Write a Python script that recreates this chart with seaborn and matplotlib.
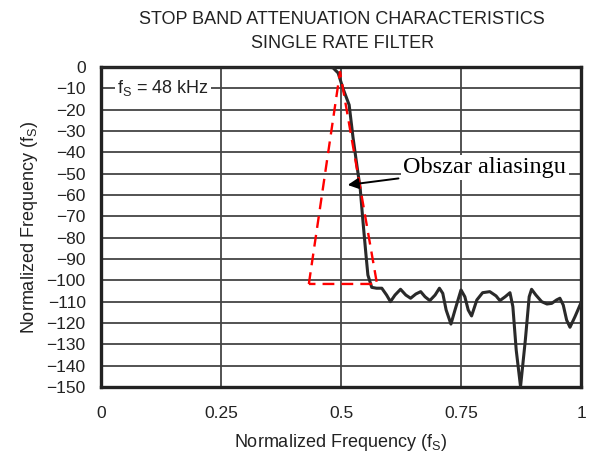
import matplotlib.pyplot as plt
import numpy as np
import pandas as pd
import seaborn as sns

# filter response (normalized freq, dB)
freq = [0.0, 0.10, 0.20, 0.30, 0.40, 0.46, 0.483, 0.494, 0.504, 0.517, 0.525, 0.533,
        0.540, 0.546, 0.552, 0.556, 0.564, 0.574, 0.585, 0.595, 0.603, 0.6125, 0.624,
        0.635, 0.645, 0.656, 0.666, 0.675, 0.685, 0.696, 0.705, 0.712, 0.719, 0.729,
        0.7375, 0.750, 0.758, 0.765, 0.772, 0.783, 0.795, 0.810, 0.823, 0.831, 0.842,
        0.852, 0.858, 0.865, 0.874, 0.884, 0.892, 0.897, 0.906, 0.918, 0.929, 0.939,
        0.949, 0.956, 0.963, 0.970, 0.977, 0.9875, 1.0]
atten = [0, 0, 0, 0, 0, 0, -0.3, -2.8, -10, -17.8, -33, -46,
         -57, -73, -88, -97.5, -103.3, -103.7, -103.7, -106.9, -110, -106.9, -104.2,
         -106.9, -108.4, -106.4, -105.3, -107.7, -109.5, -106.9, -103.7, -106.1, -113.9, -120.5,
         -113.9, -104.5, -107.7, -113.9, -116.7, -109.2, -105.8, -105.3, -107.3, -109.5, -107.7,
         -105.8, -112.3, -132.7, -149.8, -128, -107.7, -104.2, -106.9, -110, -111.1, -110.8,
         -109.2, -108.4, -111.6, -118.6, -122, -117, -110.5]

# aliasing region triangle
tri_f = [0.433, 0.498, 0.575, 0.433]
tri_db = [-101.7, -2.3, -101.7, -101.7]

xticks = [0, 0.25, 0.5, 0.75, 1]
xtick_labels = ["0", "0.25", "0.5", "0.75", "1"]
yticks = list(range(0, -151, -10))

sns.set_theme(style="white")
plt.rcParams['font.family'] = ['Liberation Sans', 'DejaVu Sans']

fig = plt.figure(figsize=(5.93, 4.57), dpi=100)
ax = fig.add_axes([0.1703, 0.1532, 0.8095, 0.7002])

df = pd.DataFrame({"f": freq, "db": atten})
sns.lineplot(data=df, x="f", y="db", sort=False, color="#2a2a2a", lw=2.2, ax=ax, zorder=3,
             solid_joinstyle="round", solid_capstyle="round")
ax.plot(tri_f, tri_db, color="red", lw=1.7, ls=(0, (5, 3)), zorder=4)

ax.set_xlim(0, 1)
ax.set_ylim(-150, 0)
ax.set_xticks(xticks)
ax.set_xticklabels(xtick_labels)
ax.set_yticks(yticks)
ax.tick_params(axis="both", length=0, labelsize=12.5, colors="#222222")
ax.tick_params(axis="x", pad=13.5)
ax.tick_params(axis="y", pad=11)
ax.grid(True, color="#444444", lw=1.3)
for s in ax.spines.values():
    s.set_color("#222222")
    s.set_linewidth(2.4)

ax.set_xlabel("Normalized Frequency (f$_\\mathregular{S}$)", fontsize=13, color="#222222", labelpad=8)
ax.set_ylabel("Normalized Frequency (f$_\\mathregular{S}$)", fontsize=13, color="#222222", labelpad=5)

fig.text(0.577, 0.958, "STOP BAND ATTENUATION CHARACTERISTICS", ha="center", va="center",
         fontsize=13, color="#222222")
fig.text(0.577, 0.904, "SINGLE RATE FILTER", ha="center", va="center",
         fontsize=13, color="#222222")

ax.text(0.033, -10, "f$_\\mathregular{S}$ = 48 kHz", fontsize=13, color="#222222", va="center",
        bbox=dict(facecolor="white", edgecolor="none", pad=1.5), zorder=5)

ax.annotate("Obszar aliasingu", xy=(0.514, -55.3), xytext=(0.63, -47),
            fontsize=17.5, family=["Liberation Serif", "DejaVu Serif"], color="black", va="center",
            bbox=dict(facecolor="white", edgecolor="none", pad=1.5),
            arrowprops=dict(arrowstyle="-|>", color="black", lw=1.4, shrinkA=2, shrinkB=0,
                            mutation_scale=16),
            zorder=6)

fig.savefig("out.png", dpi=100)
